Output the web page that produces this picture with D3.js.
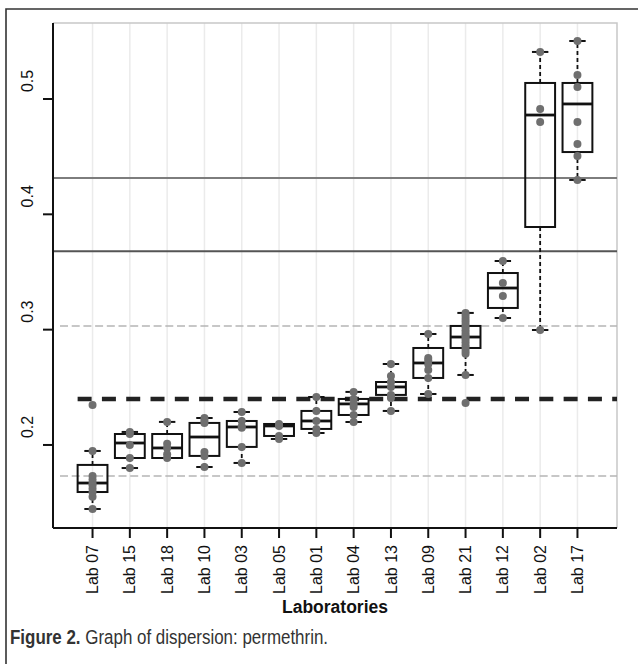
<!DOCTYPE html>
<html>
<head>
<meta charset="utf-8">
<script src="https://cdn.jsdelivr.net/npm/d3@7"></script>
<style>
  body { margin: 0; background: #fff; }
  svg { display: block; }
</style>
</head>
<body>
<div id="chart"></div>
<script>
// labs in plotted order
const LABS = ["Lab 07","Lab 15","Lab 18","Lab 10","Lab 03","Lab 05","Lab 01",
              "Lab 04","Lab 13","Lab 09","Lab 21","Lab 12","Lab 02","Lab 17"];

// box statistics
const Q1       = [0.1592,0.1887,0.1887,0.1905,0.1983,0.2078,0.2139,0.2260,0.2434,0.2581,0.2841,0.3188,0.3890,0.4540];
const MEDIAN   = [0.1670,0.2017,0.1974,0.2069,0.2156,0.2165,0.2208,0.2356,0.2503,0.2711,0.2936,0.3361,0.4861,0.4957];
const Q3       = [0.1827,0.2095,0.2095,0.2191,0.2208,0.2182,0.2295,0.2399,0.2546,0.2841,0.3032,0.3491,0.5139,0.5139];
const WHISK_LO = [0.1445,0.1800,0.1887,0.1809,0.1844,0.2052,0.2104,0.2199,0.2295,0.2442,0.2607,0.3101,0.2997,0.4298];
const WHISK_HI = [0.1948,0.2113,0.2200,0.2234,0.2286,0.2182,0.2416,0.2460,0.2702,0.2962,0.3145,0.3595,0.5408,0.5503];

// individual results per lab
const POINTS = [
    [0.2347,0.1948,0.1730,0.1700,0.1672,0.1650,0.1620,0.1590,0.1550,0.1445],
    [0.2113,0.2095,0.2000,0.1887,0.1800],
    [0.2200,0.2010,0.1974,0.1920,0.1887],
    [0.2234,0.2210,0.2191,0.1940,0.1905,0.1809],
    [0.2286,0.2208,0.2160,0.2150,0.1983,0.1844],
    [0.2182,0.2170,0.2165,0.2078,0.2052],
    [0.2416,0.2295,0.2208,0.2139,0.2104],
    [0.2460,0.2399,0.2356,0.2330,0.2260,0.2199],
    [0.2702,0.2598,0.2546,0.2503,0.2434,0.2408,0.2295],
    [0.2962,0.2754,0.2735,0.2700,0.2650,0.2580,0.2442],
    [0.3145,0.3120,0.3095,0.3070,0.3045,0.3020,0.2995,0.2970,0.2950,0.2936,0.2915,0.2890,0.2865,0.2840,0.2815,0.2790,0.2607,0.2364],
    [0.3595,0.3405,0.3292,0.3101],
    [0.5408,0.4913,0.4801,0.2997],
    [0.5503,0.5208,0.5104,0.4800,0.4610,0.4506,0.4298]
];

// reference lines
const CENTER_VALUE = 0.2399;
const SOLID_LIMITS = [0.4315, 0.3680];
const DASHED_LIMITS = [0.3032, 0.1731];

const Y_TICKS = [0.2, 0.3, 0.4, 0.5];

const W = 638, H = 664;
const panel = { left: 53, right: 617, top: 23, bottom: 528 };

const svg = d3.select("#chart").append("svg")
    .attr("width", W).attr("height", H);

// outer frame (left + top)
svg.append("path")
    .attr("d", `M6,${H} L6,9 L${W},9`)
    .attr("fill", "none").attr("stroke", "#333").attr("stroke-width", 1.6);

// scales
const x = d3.scalePoint().domain(LABS)
    .range([panel.left, panel.right]).padding(1.06);
const y = d3.scaleLinear().domain([0.128, 0.5659])
    .range([panel.bottom, panel.top]);

const boxW = x.step() * 0.8;
const capW = boxW * 0.55;

// grid lines
svg.append("g").selectAll("line")
    .data(LABS).join("line")
    .attr("x1", d => x(d)).attr("x2", d => x(d))
    .attr("y1", panel.top).attr("y2", panel.bottom)
    .attr("stroke", "#ebebeb").attr("stroke-width", 1.5);

// panel border (gray)
svg.append("path")
    .attr("d", `M${panel.left},${panel.top} L${panel.right},${panel.top} L${panel.right},${panel.bottom}`)
    .attr("fill", "none").attr("stroke", "#c8c8c8").attr("stroke-width", 1.5);

// reference lines
const refs = svg.append("g");
refs.selectAll(".solid")
    .data(SOLID_LIMITS).join("line")
    .attr("x1", panel.left).attr("x2", panel.right)
    .attr("y1", d => y(d)).attr("y2", d => y(d))
    .attr("stroke", (d, i) => i === 0 ? "#7d7d7d" : "#555")
    .attr("stroke-width", 2);

refs.selectAll(".dashed")
    .data(DASHED_LIMITS).join("line")
    .attr("x1", panel.left + 7).attr("x2", panel.right)
    .attr("y1", d => y(d)).attr("y2", d => y(d))
    .attr("stroke", "#b5b5b5").attr("stroke-width", 1.5)
    .attr("stroke-dasharray", "8,3.7");

refs.append("line")
    .attr("x1", x(LABS[0]) - boxW / 2).attr("x2", panel.right)
    .attr("y1", y(CENTER_VALUE)).attr("y2", y(CENTER_VALUE))
    .attr("stroke", "#222").attr("stroke-width", 4.5)
    .attr("stroke-dasharray", "14,10.3");

// boxes
const boxes = LABS.map((lab, i) => ({
    lab, q1: Q1[i], med: MEDIAN[i], q3: Q3[i],
    lo: WHISK_LO[i], hi: WHISK_HI[i], pts: POINTS[i]
}));

const bg = svg.append("g").selectAll("g")
    .data(boxes).join("g")
    .attr("transform", d => `translate(${x(d.lab)},0)`);

// whiskers
bg.append("line")
    .attr("x1", 0).attr("x2", 0)
    .attr("y1", d => y(d.q3)).attr("y2", d => y(d.hi))
    .attr("stroke", "#111").attr("stroke-width", 1.8).attr("stroke-dasharray", "4,3");
bg.append("line")
    .attr("x1", 0).attr("x2", 0)
    .attr("y1", d => y(d.q1)).attr("y2", d => y(d.lo))
    .attr("stroke", "#111").attr("stroke-width", 1.8).attr("stroke-dasharray", "4,3");

// caps
["hi", "lo"].forEach(k => {
    bg.append("line")
        .attr("x1", -capW / 2).attr("x2", capW / 2)
        .attr("y1", d => y(d[k])).attr("y2", d => y(d[k]))
        .attr("stroke", "#111").attr("stroke-width", 2);
});

bg.append("rect")
    .attr("x", -boxW / 2).attr("width", boxW)
    .attr("y", d => y(d.q3))
    .attr("height", d => y(d.q1) - y(d.q3))
    .attr("fill", "none").attr("stroke", "#111").attr("stroke-width", 2);

bg.append("line")
    .attr("x1", -boxW / 2).attr("x2", boxW / 2)
    .attr("y1", d => y(d.med)).attr("y2", d => y(d.med))
    .attr("stroke", "#111").attr("stroke-width", 2.8);

// points
bg.selectAll("circle")
    .data(d => d.pts).join("circle")
    .attr("cx", 0).attr("cy", d => y(d))
    .attr("r", 4)
    .attr("fill", "#6f6f6f");

// axes
const axisFont = "'Liberation Sans', Arial, sans-serif";

svg.append("line")
    .attr("x1", panel.left).attr("x2", panel.left)
    .attr("y1", panel.top).attr("y2", panel.bottom)
    .attr("stroke", "#111").attr("stroke-width", 2);
svg.append("line")
    .attr("x1", panel.left).attr("x2", panel.right)
    .attr("y1", panel.bottom).attr("y2", panel.bottom)
    .attr("stroke", "#111").attr("stroke-width", 2);

const yt = svg.append("g").selectAll("g").data(Y_TICKS).join("g");
yt.append("line")
    .attr("x1", panel.left - 10).attr("x2", panel.left)
    .attr("y1", d => y(d)).attr("y2", d => y(d))
    .attr("stroke", "#111").attr("stroke-width", 2);
yt.append("text")
    .attr("transform", d => `translate(27,${y(d) - 18}) rotate(-90)`)
    .attr("text-anchor", "middle").attr("dy", "0.35em")
    .attr("font-family", axisFont).attr("font-size", 16).attr("fill", "#111")
    .text(d => d3.format(".1f")(d));

const xt = svg.append("g").selectAll("g").data(LABS).join("g");
xt.append("line")
    .attr("x1", d => x(d)).attr("x2", d => x(d))
    .attr("y1", panel.bottom).attr("y2", panel.bottom + 10)
    .attr("stroke", "#111").attr("stroke-width", 2);
xt.append("text")
    .attr("transform", d => `translate(${x(d)},545) rotate(-90)`)
    .attr("text-anchor", "end").attr("dy", "0.35em")
    .attr("font-family", axisFont).attr("font-size", 16).attr("fill", "#111")
    .text(d => d);

svg.append("text")
    .attr("x", (panel.left + panel.right) / 2).attr("y", 613)
    .attr("text-anchor", "middle")
    .attr("font-family", axisFont).attr("font-size", 17.5).attr("font-weight", "bold")
    .attr("fill", "#111")
    .text("Laboratories");

// caption, squeezed horizontally to mimic the condensed journal face
const cap = svg.append("text")
    .attr("transform", "translate(10,644) scale(0.86,1)")
    .attr("font-family", axisFont)
    .attr("font-size", 19.7).attr("fill", "#333");
cap.append("tspan").attr("font-weight", "bold").text("Figure 2.");
cap.append("tspan").text(" Graph of dispersion: permethrin.");
</script>
</body>
</html>
